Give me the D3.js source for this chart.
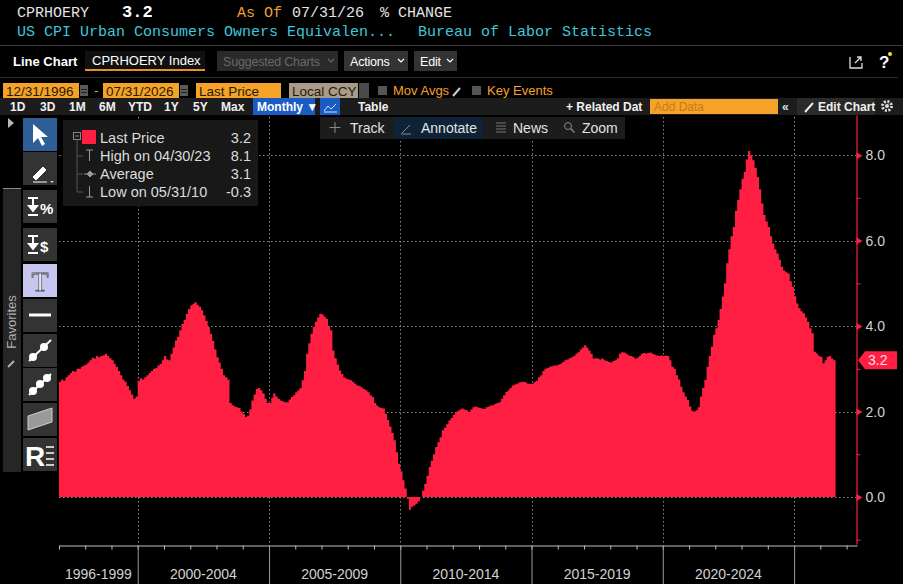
<!DOCTYPE html>
<html>
<head>
<meta charset="utf-8">
<script src="https://cdn.jsdelivr.net/npm/d3@7"></script>
<style>
body{margin:0;background:#000;overflow:hidden}
svg{display:block}
.mono{font-family:"Liberation Mono","DejaVu Sans Mono",monospace;font-size:15px}
.ui{font-family:"Liberation Sans Narrow","Liberation Sans",Arial,sans-serif}
.axis text{font-family:"Liberation Sans",Arial,sans-serif;font-size:14px;fill:#d2d2d2}
</style>
</head>
<body>
<svg id="chart"></svg>
<script>
// CPI owners' equivalent rent, % change y/y, monthly from Jan 1997 to Jul 2026
var firstMonth = new Date(1997,0,1)
var oerYoY = [
 2.70,2.75,2.72,2.80,2.85,2.90,2.95,2.93,3.00,3.00,3.05,3.08, //1997
 3.10,3.15,3.20,3.26,3.24,3.30,3.27,3.30,3.32,3.35,3.30,3.25, //1998
 3.20,3.12,3.05,2.95,2.85,2.75,2.70,2.60,2.50,2.40,2.30,2.35, //1999
 2.72,2.78,2.75,2.80,2.85,2.90,2.95,3.00,3.02,3.08,3.12,3.20, //2000
 3.30,3.22,3.20,3.35,3.50,3.66,3.75,3.90,4.05,4.15,4.28,4.40, //2001
 4.48,4.52,4.56,4.50,4.45,4.37,4.25,4.12,3.98,3.82,3.65,3.45, //2002
 3.27,3.15,3.00,2.85,2.80,2.75,2.20,2.15,2.12,2.10,2.08,2.00, //2003
 1.95,1.87,1.90,2.05,2.26,2.40,2.53,2.55,2.50,2.42,2.30,2.20, //2004
 2.20,2.32,2.42,2.35,2.30,2.26,2.24,2.22,2.22,2.28,2.34,2.38, //2005
 2.45,2.50,2.55,2.73,2.95,3.35,3.60,3.82,3.98,4.10,4.20,4.29, //2006
 4.27,4.22,4.17,4.00,3.90,3.43,3.25,3.10,2.96,2.88,2.80,2.77, //2007
 2.75,2.73,2.70,2.65,2.61,2.60,2.56,2.53,2.50,2.45,2.38,2.34, //2008
 2.20,2.14,2.10,2.08,2.07,1.95,1.80,1.65,1.50,1.33,1.05,0.78, //2009
 0.60,0.39,0.20,-0.04,-0.30,-0.23,-0.20,-0.16,-0.10,0.00,0.15,0.31, //2010
 0.50,0.70,0.85,1.00,1.17,1.28,1.40,1.56,1.62,1.70,1.79,1.85, //2011
 1.92,1.99,2.02,2.05,2.07,2.05,2.03,1.99,2.05,2.10,2.12,2.10, //2012
 2.08,2.07,2.06,2.10,2.12,2.14,2.15,2.18,2.20,2.22,2.30,2.38, //2013
 2.46,2.50,2.55,2.61,2.63,2.65,2.68,2.69,2.70,2.68,2.65,2.65, //2014
 2.65,2.69,2.72,2.80,2.85,2.95,3.00,3.02,3.05,3.06,3.08,3.08, //2015
 3.10,3.12,3.16,3.20,3.22,3.25,3.27,3.30,3.35,3.39,3.45,3.50, //2016
 3.55,3.50,3.43,3.35,3.24,3.25,3.24,3.22,3.24,3.20,3.18,3.16, //2017
 3.15,3.18,3.20,3.25,3.35,3.39,3.38,3.35,3.31,3.30,3.28,3.24, //2018
 3.26,3.30,3.35,3.37,3.36,3.37,3.38,3.35,3.33,3.31,3.30,3.31, //2019
 3.30,3.31,3.30,3.20,3.05,3.00,2.85,2.75,2.58,2.45,2.35,2.27, //2020
 2.12,2.02,2.00,2.03,2.10,2.35,2.55,2.74,3.05,3.30,3.52,3.80, //2021
 3.95,4.14,4.40,4.69,5.00,5.47,5.80,6.10,6.32,6.70,6.95,7.20, //2022
 7.45,7.61,7.90,8.10,8.00,7.88,7.70,7.49,7.20,6.87,6.60,6.45, //2023
 6.32,6.10,5.93,5.80,5.70,5.55,5.39,5.30,5.26,5.23,5.05,4.92, //2024
 4.70,4.53,4.42,4.35,4.30,4.20,4.10,3.95,3.83,3.40,3.36,3.30, //2025
 3.28,3.13,3.20,3.28,3.30,3.24,3.20                          //2026
]
var lastValue = 3.2
var yTicks = [0,2,4,6,8]
var yMinorTicks = [-1,1,3,5,7]
var periodBreaks = [2000,2005,2010,2015,2020,2025]
var periodLabels = ["1996-1999","2000-2004","2005-2009","2010-2014","2015-2019","2020-2024"]
var legendRows = [
 {label:"Last Price",value:"3.2"},
 {label:"High on 04/30/23",value:"8.1"},
 {label:"Average",value:"3.1"},
 {label:"Low on 05/31/10",value:"-0.3"}
]
var rangeButtons = ["1D","3D","1M","6M","YTD","1Y","5Y","Max"]
var rangeX = [10,40,69,99,128,164,193,221]

var RED = "#fe1f42"
var ORANGE = "#f5a228"

var svg = d3.select("#chart").attr("width",903).attr("height",584)

var xScale = d3.scaleTime()
 .domain([new Date(1997,0,1),new Date(2027,4,26)])
 .range([59,857])
var yScale = d3.scaleLinear()
 .domain([-1.1,8.94])
 .range([544,115])

var chevron = function(g,x,y,col)
{
 g.append("path").attr("d","M"+x+","+y+" l3,3 l3,-3")
  .attr("fill","none").attr("stroke",col).attr("stroke-width",1.2)
}

var drawGrid = function()
{
 var grid = svg.append("g")
 grid.selectAll("line.h")
 .data(yTicks)
 .enter()
 .append("line")
 .attr("x1",59).attr("x2",856)
 .attr("y1",function(d){return Math.round(yScale(d))+0.5})
 .attr("y2",function(d){return Math.round(yScale(d))+0.5})
 .attr("stroke","#8a8a8a").attr("stroke-dasharray","1.5,2.5")
 grid.selectAll("line.v")
 .data(periodBreaks)
 .enter()
 .append("line")
 .attr("x1",function(d){return Math.round(xScale(new Date(d,0,1)))+0.5})
 .attr("x2",function(d){return Math.round(xScale(new Date(d,0,1)))+0.5})
 .attr("y1",113).attr("y2",545)
 .attr("stroke","#8a8a8a").attr("stroke-dasharray","1.5,2.5")
}

var drawArea = function()
{
 var series = oerYoY.map(function(v,i){
  return {date:d3.timeMonth.offset(firstMonth,i),value:v}
 })
 series.push({date:d3.timeMonth.offset(firstMonth,oerYoY.length),value:oerYoY[oerYoY.length-1]})
 var area = d3.area()
 .curve(d3.curveStepAfter)
 .x(function(d){return xScale(d.date)})
 .y0(yScale(0))
 .y1(function(d){return yScale(d.value)})
 svg.append("path")
 .datum(series)
 .attr("d",area)
 .attr("fill",RED)
}

var drawAxes = function()
{
 // right value axis
 var yAxis = d3.axisRight(yScale)
 .tickValues(yTicks)
 .tickFormat(d3.format(".1f"))
 .tickSize(0)
 .tickPadding(9)
 var ya = svg.append("g")
 .attr("class","axis")
 .attr("transform","translate(856.5,0)")
 .call(yAxis)
 ya.select(".domain").attr("stroke",RED).attr("stroke-width",1.2)
 ya.selectAll(".tick").append("path")
 .attr("d","M0,-3.5 L6,0 L0,3.5 Z")
 .attr("fill",RED)
 var yMinor = d3.axisRight(yScale).tickValues(yMinorTicks).tickSize(4).tickFormat("")
 var ym = svg.append("g")
 .attr("transform","translate(856.5,0)")
 .call(yMinor)
 ym.select(".domain").remove()
 ym.selectAll("line").attr("stroke",RED)

 // time axis
 var xMinor = d3.axisBottom(xScale).ticks(d3.timeYear.every(1)).tickSize(4).tickFormat("").tickSizeOuter(0)
 var xm = svg.append("g")
 .attr("transform","translate(0,545.5)")
 .call(xMinor)
 xm.select(".domain").attr("stroke","#bdbdbd")
 xm.selectAll("line").attr("stroke","#bdbdbd")
 var xMajor = d3.axisBottom(xScale)
 .tickValues(periodBreaks.map(function(y){return new Date(y,0,1)}))
 .tickSize(40).tickFormat("")
 var xM = svg.append("g")
 .attr("transform","translate(0,545.5)")
 .call(xMajor)
 xM.select(".domain").remove()
 xM.selectAll("line").attr("stroke","#9a9a9a")

 var bounds = [new Date(1997,0,1)].concat(periodBreaks.map(function(y){return new Date(y,0,1)}))
 svg.append("g")
 .attr("class","axis")
 .selectAll("text")
 .data(periodLabels)
 .enter()
 .append("text")
 .text(function(d){return d})
 .attr("text-anchor","middle")
 .attr("x",function(d,i){return (xScale(bounds[i])+xScale(bounds[i+1]))/2})
 .attr("y",579)

 // last value tag
 var ty = yScale(lastValue)
 svg.append("path")
 .attr("d","M858,"+ty+" L865,"+(ty-9)+" L897,"+(ty-9)+" L897,"+(ty+9)+" L865,"+(ty+9)+" Z")
 .attr("fill",RED)
 svg.append("text")
 .attr("x",868).attr("y",ty+5)
 .attr("font-family","Liberation Sans, Arial, sans-serif")
 .attr("font-size",14)
 .attr("fill","#ffe0e4")
 .text(lastValue.toFixed(1))
}

var drawHeader = function()
{
 var h = svg.append("g").attr("class","mono")
 var row1 = [
  {x:17,t:"CPRHOERY",c:"#e4e4e4",w:"normal"},
  {x:122,t:"3.2",c:"#ffffff",w:"bold"},
  {x:237,t:"As Of",c:"#f0a030",w:"normal"},
  {x:292,t:"07/31/26",c:"#e4e4e4",w:"normal"},
  {x:380,t:"% CHANGE",c:"#e4e4e4",w:"normal"}
 ]
 h.selectAll("text.r1")
 .data(row1)
 .enter()
 .append("text")
 .attr("x",function(d){return d.x})
 .attr("y",17)
 .attr("fill",function(d){return d.c})
 .attr("font-weight",function(d){return d.w})
 .attr("font-size",function(d){return d.w=="bold"?17:15})
 .text(function(d){return d.t})
 h.append("text").attr("x",17).attr("y",36).attr("fill","#3fc6dc")
 .text("US CPI Urban Consumers Owners Equivalen...")
 h.append("text").attr("x",418).attr("y",36).attr("fill","#3fc6dc")
 .text("Bureau of Labor Statistics")

 svg.append("line").attr("x1",0).attr("x2",903).attr("y1",45.5).attr("y2",45.5).attr("stroke","#3a3a3a")
 svg.append("line").attr("x1",0).attr("x2",898).attr("y1",77.5).attr("y2",77.5).attr("stroke","#2e2e2e")

 // row of buttons
 var b = svg.append("g").attr("class","ui").attr("font-size",13)
 b.append("text").attr("x",13).attr("y",66).attr("fill","#fff").attr("font-weight","bold").text("Line Chart")
 b.append("rect").attr("x",85).attr("y",51).attr("width",120).attr("height",20).attr("fill","#101010")
 b.append("rect").attr("x",85).attr("y",69).attr("width",120).attr("height",2).attr("fill","#e8901c")
 b.append("text").attr("x",92).attr("y",65).attr("fill","#fff").text("CPRHOERY Index")
 var boxes = [
  {x:217,w:121,t:"Suggested Charts",bg:"#2a2a2a",c:"#686868"},
  {x:344,w:64,t:"Actions",bg:"#333",c:"#fff"},
  {x:414,w:43,t:"Edit",bg:"#333",c:"#fff"}
 ]
 boxes.forEach(function(d){
  b.append("rect").attr("x",d.x).attr("y",51).attr("width",d.w).attr("height",20).attr("fill",d.bg)
  b.append("text").attr("x",d.x+6).attr("y",66).attr("fill",d.c)
  .attr("font-size",12.5).attr("letter-spacing",-0.2).text(d.t)
  chevron(b,d.x+d.w-10,59,d.c)
 })
 // share + help
 b.append("path").attr("d","M850,57 v11 h12 v-5 M855,63 l6,-6 M857,57 h4 v4")
 .attr("fill","none").attr("stroke","#ddd").attr("stroke-width",1.3)
 b.append("text").attr("x",879).attr("y",68).attr("fill","#fff").attr("font-weight","bold").attr("font-size",17).text("?")
 b.append("circle").attr("cx",890).attr("cy",54).attr("r",2).attr("fill","#f5e03a")

 // date row
 var r = svg.append("g").attr("class","ui").attr("font-size",13)
 var oboxes = [
  {x:3,w:76,t:"12/31/1996",bg:ORANGE},
  {x:103,w:76,t:"07/31/2026",bg:ORANGE},
  {x:196,w:85,t:"Last Price",bg:ORANGE},
  {x:289,w:69,t:"Local CCY",bg:"#a99b8b"}
 ]
 oboxes.forEach(function(d){
  r.append("rect").attr("x",d.x).attr("y",83).attr("width",d.w).attr("height",15).attr("fill",d.bg)
  r.append("text").attr("x",d.x+3).attr("y",95.5).attr("fill","#2a1a00").attr("font-size",13.5)
  .attr("font-family","Liberation Sans, Arial, sans-serif").text(d.t)
 })
 ;[80,180].forEach(function(x){
  r.append("rect").attr("x",x).attr("y",85).attr("width",8).attr("height",11).attr("fill","#5a5a5a")
  r.append("line").attr("x1",x+1).attr("x2",x+7).attr("y1",89.5).attr("y2",89.5).attr("stroke","#222")
  r.append("line").attr("x1",x+1).attr("x2",x+7).attr("y1",92.5).attr("y2",92.5).attr("stroke","#222")
 })
 r.append("text").attr("x",94).attr("y",95).attr("fill",ORANGE).text("-")
 r.append("rect").attr("x",359).attr("y",83).attr("width",10).attr("height",15).attr("fill","#4a4a4a")
 r.append("rect").attr("x",378).attr("y",86).attr("width",9).attr("height",9).attr("fill","#555")
 r.append("text").attr("x",393).attr("y",95).attr("fill",ORANGE).text("Mov Avgs")
 r.append("path").attr("d","M453,96 l7,-8").attr("stroke","#ccc").attr("stroke-width",2)
 r.append("rect").attr("x",472).attr("y",86).attr("width",9).attr("height",9).attr("fill","#555")
 r.append("text").attr("x",487).attr("y",95).attr("fill",ORANGE).text("Key Events")

 // period bar
 var p = svg.append("g").attr("class","ui").attr("font-size",12).attr("font-weight","bold")
 p.append("rect").attr("x",0).attr("y",98).attr("width",903).attr("height",17).attr("fill","#1c1c1c")
 p.selectAll("text.rb")
 .data(rangeButtons)
 .enter()
 .append("text")
 .attr("x",function(d,i){return rangeX[i]})
 .attr("y",111)
 .attr("fill","#f0f0f0")
 .text(function(d){return d})
 p.append("rect").attr("x",253).attr("y",98).attr("width",62).attr("height",17).attr("fill","#1a5cc4")
 p.append("text").attr("x",257).attr("y",111).attr("fill","#fff").text("Monthly \u25BC")
 p.append("rect").attr("x",320).attr("y",98).attr("width",20).attr("height",17).attr("fill","#1a5cc4")
 p.append("path").attr("d","M324,111 l4,-5 l3,3 l5,-5 M324,112 h13").attr("fill","none").attr("stroke","#cfe0ff")
 p.append("text").attr("x",358).attr("y",111).attr("fill","#f0f0f0").text("Table")
 p.append("text").attr("x",566).attr("y",111).attr("fill","#f0f0f0").text("+ Related Dat")
 p.append("rect").attr("x",650).attr("y",99).attr("width",128).attr("height",15).attr("fill",ORANGE)
 p.append("text").attr("x",654).attr("y",111).attr("fill","#c97a18").attr("font-weight","normal").text("Add Data")
 p.append("text").attr("x",782).attr("y",111).attr("fill","#e0e0e0").text("\u00AB")
 p.append("rect").attr("x",797).attr("y",98).attr("width",78).attr("height",17).attr("fill","#2a2a2a")
 p.append("path").attr("d","M805,112 l8,-9").attr("stroke","#eee").attr("stroke-width",2)
 p.append("text").attr("x",818).attr("y",111).attr("fill","#f0f0f0").text("Edit Chart")
 p.append("circle").attr("cx",887).attr("cy",106).attr("r",4.5).attr("fill","none")
 .attr("stroke","#ddd").attr("stroke-width",3).attr("stroke-dasharray","2,1.5")
 p.append("circle").attr("cx",887).attr("cy",106).attr("r",2).attr("fill","#ddd")
}

var drawChartTools = function()
{
 var t = svg.append("g").attr("class","ui").attr("font-size",14)
 t.append("rect").attr("x",320).attr("y",117).attr("width",305).attr("height",22).attr("fill","#1c1c1c")
 t.append("rect").attr("x",394).attr("y",117).attr("width",89).attr("height",22).attr("fill","#0e2238")
 var items = [{x:350,t:"Track"},{x:421,t:"Annotate"},{x:513,t:"News"},{x:582,t:"Zoom"}]
 t.selectAll("text.tool")
 .data(items)
 .enter()
 .append("text")
 .attr("x",function(d){return d.x})
 .attr("y",133)
 .attr("fill","#e2e2e2")
 .text(function(d){return d.t})
 t.append("path").attr("d","M335,122 v11 M329.5,127.5 h11").attr("stroke","#888")
 t.append("path").attr("d","M402,133 l8,-8 M401,134 h10").attr("stroke","#888")
 t.append("path").attr("d","M496,123 h10 M496,126 h10 M496,129 h10 M496,132 h10").attr("stroke","#777")
 t.append("circle").attr("cx",568).attr("cy",126).attr("r",3.5).attr("fill","none").attr("stroke","#888")
 t.append("path").attr("d","M570.5,128.5 l4,4").attr("stroke","#888").attr("stroke-width",1.5)

 // left tool column
 var l = svg.append("g")
 l.append("path").attr("d","M8,118 L14,123 L8,128 Z").attr("fill","#b8b8b8")
 l.append("rect").attr("x",3).attr("y",188).attr("width",18).attr("height",284).attr("fill","#262626")
 l.append("line").attr("x1",3).attr("x2",21).attr("y1",188.5).attr("y2",188.5).attr("stroke","#888")
 l.append("text").attr("class","ui").attr("font-size",13).attr("fill","#b0b0b0")
 .attr("text-anchor","middle").attr("transform","translate(16,322) rotate(-90)").text("Favorites")
 l.append("path").attr("d","M8,367 l6,-6").attr("stroke","#b0b0b0").attr("stroke-width",2)
 var btnY = [118,152,190,228,264,299,334,368,403,438]
 l.selectAll("rect.btn")
 .data(btnY)
 .enter()
 .append("rect")
 .attr("x",23).attr("y",function(d){return d})
 .attr("width",34).attr("height",33)
 .attr("fill",function(d,i){return i==0?"#2f5e96":(i==4?"#c6c6ee":"#333")})
 // icons
 l.append("path").attr("d","M33,124 L33,143 L38,138 L42,146 L45,144 L41,137 L48,137 Z").attr("fill","#fff")
 l.append("path").attr("d","M33,177 l10,-10 l3,3 l-10,10 z M33,182 h14").attr("fill","#fff").attr("stroke","#fff")
 l.append("path").attr("d","M50,181 l2,2 l2,-2 z").attr("fill","#ccc")
 ;[{y:190,s:"%"},{y:228,s:"$"}].forEach(function(d){
  l.append("path").attr("d","M28,"+(d.y+8)+" h10 M33,"+(d.y+8)+" v10 M29,"+(d.y+16)+" l4,5 l4,-5 z M28,"+(d.y+25)+" h10")
  .attr("stroke","#fff").attr("stroke-width",2).attr("fill","#fff")
  l.append("text").attr("x",40).attr("y",d.y+24).attr("fill","#fff").attr("font-size",15)
  .attr("font-weight","bold").attr("font-family","Liberation Sans, Arial, sans-serif").text(d.s)
 })
 l.append("text").attr("x",40).attr("y",291).attr("text-anchor","middle").attr("font-size",28)
 .attr("font-family","Liberation Serif, serif").attr("fill","#fff").attr("stroke","#556").attr("stroke-width",0.8).text("T")
 l.append("path").attr("d","M29,315 h22").attr("stroke","#fff").attr("stroke-width",3)
 ;[334,368].forEach(function(y,i){
  l.append("path").attr("d","M29,"+(y+27)+" L51,"+(y+6)).attr("stroke","#fff").attr("stroke-width",2)
  l.selectAll(null).data(i==0?[[33,y+23],[44,y+13]]:[[33,y+23],[40,y+16],[47,y+10]]).enter()
  .append("circle").attr("cx",function(d){return d[0]}).attr("cy",function(d){return d[1]}).attr("r",4).attr("fill","#fff")
 })
 l.append("path").attr("d","M28,430 L28,416 L52,408 L52,422 Z").attr("fill","#9a9a9a").attr("stroke","#ccc")
 l.append("text").attr("x",25).attr("y",466).attr("fill","#fff").attr("font-size",28).attr("font-weight","bold")
 .attr("font-family","Liberation Sans, Arial, sans-serif").text("R")
 l.append("path").attr("d","M46,447 h8 M46,453 h8 M46,459 h8 M46,465 h8").attr("stroke","#fff").attr("stroke-width",1.5)
}

var drawLegend = function()
{
 var g = svg.append("g")
 g.append("rect").attr("x",63).attr("y",120).attr("width",195).attr("height",86).attr("fill","#181818")
 g.append("rect").attr("x",73.5).attr("y",132.5).attr("width",7).attr("height",7).attr("fill","none").attr("stroke","#888")
 g.append("line").attr("x1",75).attr("x2",79).attr("y1",136).attr("y2",136).attr("stroke","#888")
 g.append("path").attr("d","M77,140 V192 M77,156 h6 M77,174 h6 M77,192 h6").attr("fill","none").attr("stroke","#555")
 g.append("rect").attr("x",82).attr("y",130).attr("width",14).attr("height",14).attr("fill",RED)
 g.append("path").attr("d","M86,150 h7 M89.5,150 v11 M84,174 h12 M90,171 l3,3 l-3,3 l-3,-3 z M86,197 h7 M89.5,186 v11")
 .attr("fill","#999").attr("stroke","#999")
 var rows = g.selectAll("g.row")
 .data(legendRows)
 .enter()
 .append("g")
 .attr("transform",function(d,i){return "translate(0,"+(143+i*18)+")"})
 rows.append("text")
 .attr("x",100)
 .attr("font-family","Liberation Sans, Arial, sans-serif").attr("font-size",14.5).attr("fill","#dcdcdc")
 .text(function(d){return d.label})
 rows.append("text")
 .attr("x",251).attr("text-anchor","end")
 .attr("font-family","Liberation Sans, Arial, sans-serif").attr("font-size",14.5).attr("fill","#dcdcdc")
 .text(function(d){return d.value})
}

drawGrid()
drawArea()
drawAxes()
drawHeader()
drawChartTools()
drawLegend()
</script>
</body>
</html>
